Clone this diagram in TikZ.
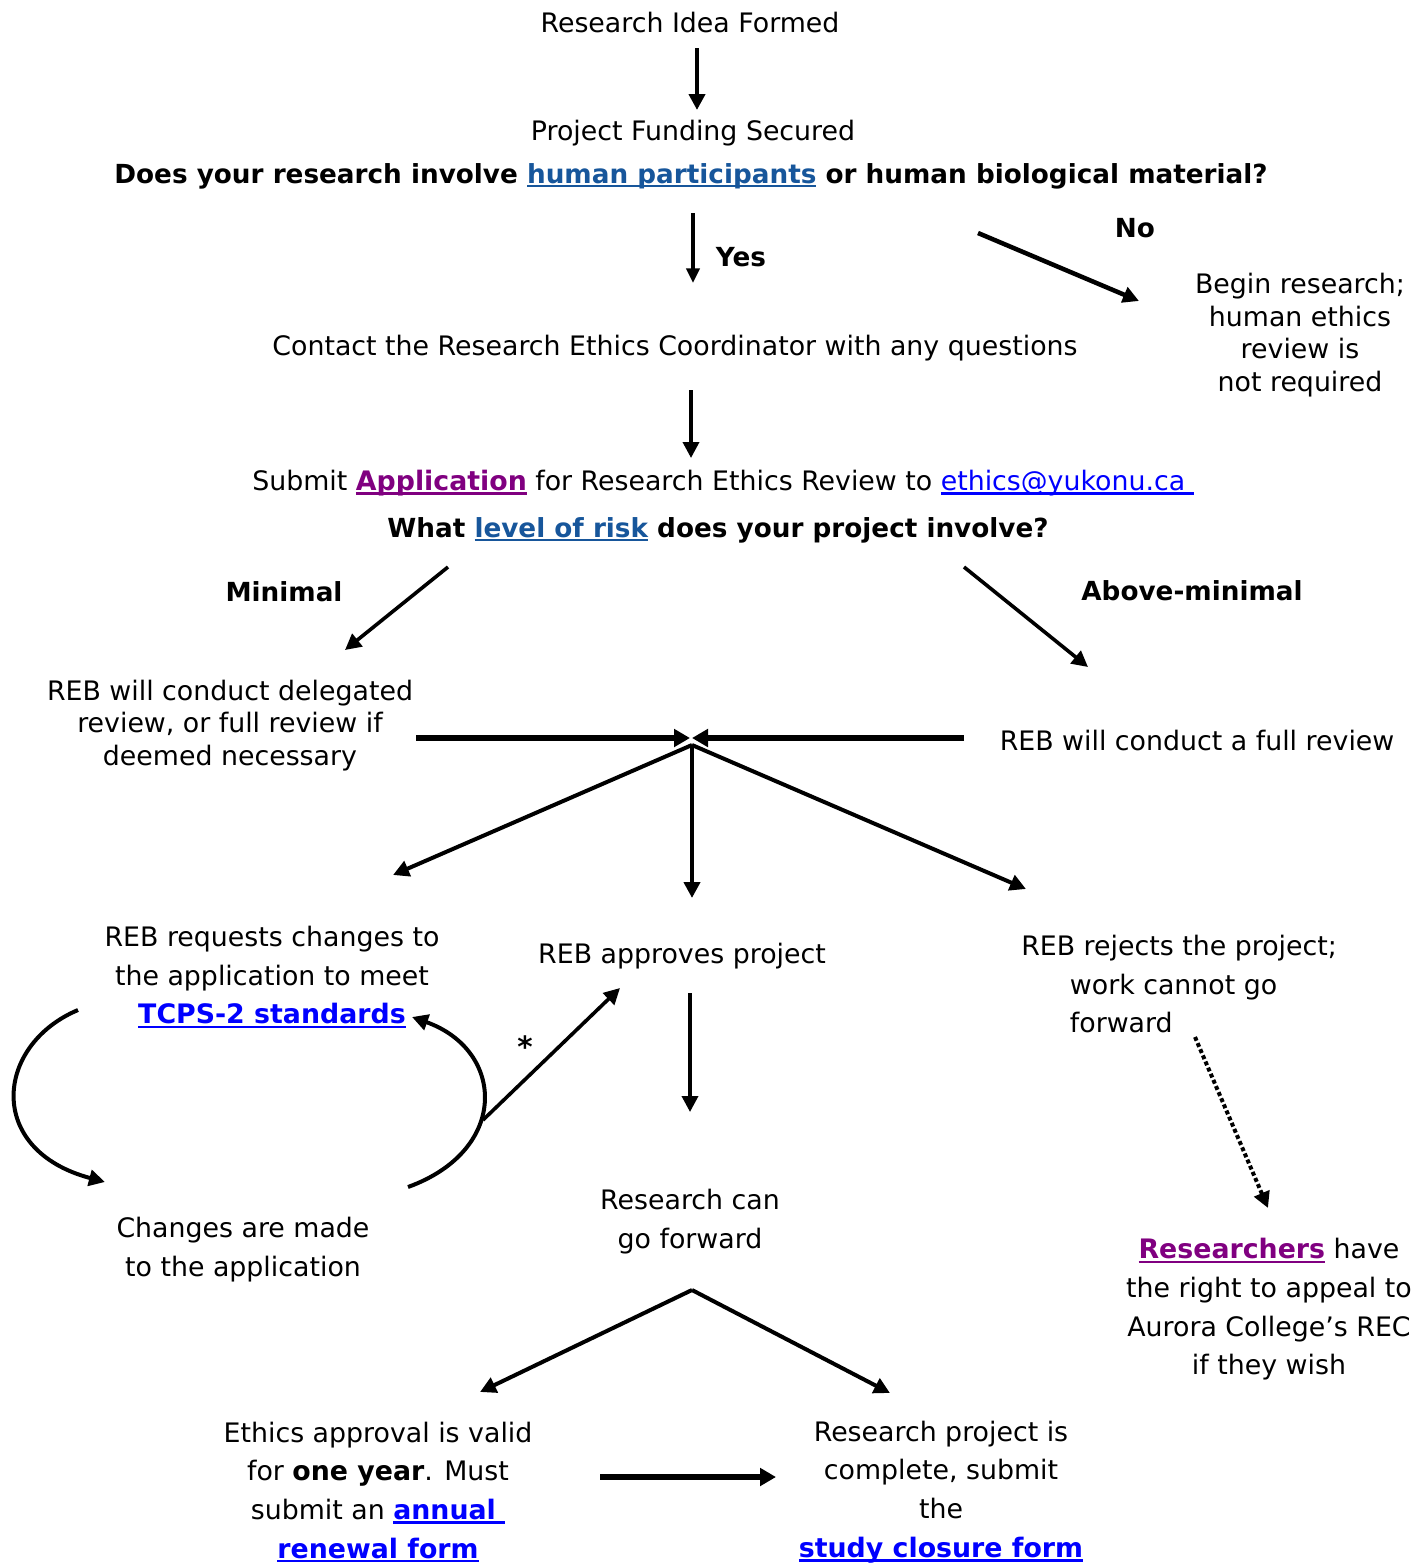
\documentclass[tikz,border=0pt]{standalone}
\usepackage{fontspec}
\setmainfont{DejaVu Sans}
\usetikzlibrary{arrows.meta}
\definecolor{lblue}{HTML}{0000FF}
\definecolor{dblue}{HTML}{17569B}
\definecolor{lpurple}{HTML}{800080}
\newcommand\mylink[2]{{\color{#1}\setbox0\hbox{#2}\rlap{\rule[-3.2pt]{\wd0}{1.8pt}}\box0}}
\tikzset{
  txt/.style={inner sep=0pt, align=center, yshift=-1.5pt, font=\fontsize{20.1}{29}\selectfont},
  txtb/.style={txt, font=\fontsize{19.7}{29}\selectfont\bfseries},
  tight/.style={txt, font=\fontsize{20.1}{24.3}\selectfont},
  arr/.style={-{Triangle[length=12pt,width=12pt]}, line width=3pt},
  arrthin/.style={-{Triangle[length=11pt,width=10pt]}, line width=2.4pt},
  arrfat/.style={-{Triangle[length=12pt,width=13pt]}, line width=3.8pt},
}
\begin{document}
\begin{tikzpicture}[x=0.75pt,y=-0.75pt]
\useasboundingbox (0,0) rectangle (1424,1564);
% text nodes
\node[txt] (idea) at (690,21) {Research Idea Formed};
\node[txt] (fund) at (693,131) {Project Funding Secured};
\node[txtb] (q1) at (691,174) {Does your research involve \mylink{dblue}{human participants} or human biological material?};
\node[txtb] (yes) at (741,255) {Yes};
\node[txtb] (no) at (1135,226) {No};
\node[tight] (begin) at (1300,333) {Begin research;\\human ethics\\review is\\not required};
\node[txt] (contact) at (675,346) {Contact the Research Ethics Coordinator with any questions};
\node[txt] (submit) at (723,481) {Submit \mylink{lpurple}{\bfseries Application} for Research Ethics Review to \mylink{lblue}{ethics@yukonu.ca\ }};
\node[txtb] (risk) at (718,528) {What \mylink{dblue}{level of risk} does your project involve?};
\node[txtb] (minimal) at (284,590) {Minimal};
\node[txtb] (above) at (1192,589) {Above-minimal};
\node[tight] (deleg) at (230,723.5) {REB will conduct delegated\\review, or full review if\\deemed necessary};
\node[txt] (full) at (1197,738) {REB will conduct a full review};
\node[txt] (changes) at (272,975) {REB requests changes to\\the application to meet\\\mylink{lblue}{\bfseries TCPS-2 standards}};
\node[txt] (approve) at (682,954) {REB approves project};
\node[txt, align=left, anchor=west] (reject) at (1021,982) {REB rejects the project;\\\hspace*{36.5pt}work cannot go\\\hspace*{36.5pt}forward};
\node[txt] (appeal) at (1269,1307.5) {\mylink{lpurple}{\bfseries Researchers} have\\the right to appeal to\\Aurora College’s REC\\if they wish};
\node[txt] (canfwd) at (690,1219.5) {Research can\\go forward};
\node[txt] (made) at (243,1247.5) {Changes are made\\to the application};
\node[txt] (valid) at (378,1490) {Ethics approval is valid\\for \textbf{one year}. Must\\submit an \mylink{lblue}{\bfseries annual\ }\\\mylink{lblue}{\bfseries renewal form}};
\node[txt] (closure) at (941,1490) {Research project is\\complete, submit\\the\\\mylink{lblue}{\bfseries study closure form}};
\node[txtb, font=\fontsize{22}{29}\selectfont\bfseries] (star) at (525,1045) {*};
% coordinates
\coordinate (a1s) at (697,48);   \coordinate (a1e) at (697,110);
\coordinate (a2s) at (693,213);  \coordinate (a2e) at (693,283);
\coordinate (a3s) at (978,233);  \coordinate (a3e) at (1139,301);
\coordinate (a4s) at (691,390);  \coordinate (a4e) at (691,458);
\coordinate (a5s) at (448,567);  \coordinate (a5e) at (345,650);
\coordinate (a6s) at (964,567);  \coordinate (a6e) at (1088,667);
\coordinate (a7s) at (416,738);  \coordinate (a7e) at (690,738);
\coordinate (a8s) at (964,738);  \coordinate (a8e) at (692,738);
\coordinate (hub) at (692,745);
\coordinate (h1) at (393,875); \coordinate (h2) at (692,898); \coordinate (h3) at (1026,889);
\coordinate (ds) at (1195,1037); \coordinate (de) at (1268,1208);
\coordinate (a11s) at (690,993); \coordinate (a11e) at (690,1112);
\coordinate (cls) at (78,1010); \coordinate (cle) at (105,1182);
\coordinate (crs) at (408,1187); \coordinate (cre) at (412,1017);
\coordinate (sts) at (483,1120); \coordinate (ste) at (620,988);
\coordinate (hub2) at (692,1290);
\coordinate (k1) at (480,1392); \coordinate (k2) at (890,1393);
\coordinate (a13s) at (600,1477); \coordinate (a13e) at (776,1477);
% connectors
\draw[arr] (a1s) -- (a1e);
\draw[arrthin] (a2s) -- (a2e);
\draw[arr, line width=3.4pt] (a3s) -- (a3e);
\draw[arr, line width=2.7pt] (a4s) -- (a4e);
\draw[arr, line width=2.7pt] (a5s) -- (a5e);
\draw[arr, line width=2.7pt] (a6s) -- (a6e);
\draw[arrfat] (a7s) -- (a7e);
\draw[arrfat] (a8s) -- (a8e);
\draw[arr] (hub) -- (h1);
\draw[arr] (hub) -- (h2);
\draw[arr] (hub) -- (h3);
\draw[arr, line width=3pt, dotted] (ds) -- (de);
\draw[arr, line width=2.7pt] (a11s) -- (a11e);
\draw[arr] (cls) .. controls (-5,1045) and (-15,1150) .. (cle);
\draw[arr] (crs) .. controls (510,1150) and (505,1050) .. (cre);
\draw[arr, line width=2.7pt] (sts) -- (ste);
\draw[arr] (hub2) -- (k1);
\draw[arr] (hub2) -- (k2);
\draw[arrfat] (a13s) -- (a13e);
\end{tikzpicture}
\end{document}
